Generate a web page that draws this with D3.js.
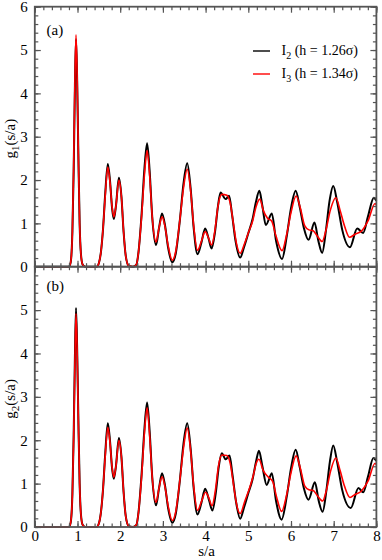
<!DOCTYPE html>
<html>
<head>
<meta charset="utf-8">
<script src="https://cdn.jsdelivr.net/npm/d3@7"></script>
<style>
  html, body { margin: 0; padding: 0; background: #fff; }
  svg { display: block; }
  svg text { font-family: "Liberation Serif", "Times New Roman", "DejaVu Serif", serif !important; fill: #000; }
</style>
</head>
<body>
<svg id="chart" width="382" height="560"></svg>
<script>
// ---------------- data ----------------
const xTickValues = [0, 1, 2, 3, 4, 5, 6, 7, 8];
const yTickValuesTop = [0, 1, 2, 3, 4, 5, 6];
const yTickValuesBottom = [0, 1, 2, 3, 4, 5];
const seriesNames = ["I", "I"];
const seriesSubs = ["2", "3"];
const seriesRest = [" (h = 1.26\u03c3)", " (h = 1.34\u03c3)"];
const panelLabels = ["(a)", "(b)"];
const yTitleSubs = ["1", "2"];

// panel (a): g1(s/a)
const sA_I2 = [0, 0.8, 0.84, 0.88, 0.91, 0.94, 0.965, 0.99, 1.02, 1.05, 1.08, 1.12, 1.18, 1.45, 1.5, 1.55, 1.6, 1.65, 1.71, 1.76, 1.81, 1.85, 1.9, 1.97, 2.03, 2.08, 2.13, 2.2, 2.3, 2.38, 2.43, 2.5, 2.57, 2.63, 2.69, 2.75, 2.84, 2.91, 2.98, 3.05, 3.12, 3.22, 3.3, 3.4, 3.48, 3.57, 3.65, 3.72, 3.81, 3.9, 3.99, 4.07, 4.14, 4.22, 4.29, 4.35, 4.47, 4.55, 4.62, 4.7, 4.81, 4.9, 5.0, 5.1, 5.18, 5.26, 5.33, 5.41, 5.55, 5.65, 5.79, 5.9, 6.0, 6.11, 6.2, 6.3, 6.41, 6.55, 6.64, 6.73, 6.82, 6.9, 6.99, 7.08, 7.2, 7.38, 7.55, 7.69, 7.8, 7.94, 8.0];
const gA_I2 = [0, 0, 0.1, 0.8, 2.2, 4.2, 5.25, 4.4, 2.6, 1.0, 0.3, 0.05, 0, 0, 0.08, 0.35, 0.9, 1.7, 2.37, 2.0, 1.35, 1.1, 1.4, 2.05, 1.6, 0.8, 0.25, 0.02, 0, 0.05, 0.35, 1.2, 2.3, 2.85, 2.2, 1.15, 0.5, 0.9, 1.23, 0.95, 0.45, 0.1, 0.3, 1.1, 1.9, 2.39, 1.8, 0.9, 0.29, 0.55, 0.88, 0.65, 0.42, 0.8, 1.4, 1.71, 1.56, 1.64, 1.2, 0.6, 0.21, 0.45, 0.77, 1.1, 1.5, 1.75, 1.4, 0.96, 1.23, 0.6, 0.18, 0.7, 1.35, 1.75, 1.4, 0.9, 0.62, 1.02, 0.6, 0.32, 0.85, 1.5, 1.86, 1.5, 0.85, 0.45, 0.88, 0.78, 1.15, 1.59, 1.52];

const sA_I3 = [0, 0.8, 0.84, 0.88, 0.91, 0.94, 0.965, 0.99, 1.02, 1.05, 1.08, 1.12, 1.18, 1.45, 1.5, 1.55, 1.6, 1.65, 1.71, 1.76, 1.81, 1.85, 1.9, 1.97, 2.03, 2.08, 2.13, 2.2, 2.3, 2.38, 2.43, 2.5, 2.57, 2.63, 2.69, 2.75, 2.84, 2.91, 2.98, 3.05, 3.12, 3.22, 3.3, 3.4, 3.48, 3.57, 3.65, 3.72, 3.81, 3.9, 3.99, 4.07, 4.14, 4.22, 4.29, 4.38, 4.5, 4.58, 4.65, 4.72, 4.81, 4.9, 5.0, 5.1, 5.18, 5.27, 5.35, 5.45, 5.55, 5.65, 5.79, 5.9, 6.0, 6.12, 6.22, 6.32, 6.42, 6.52, 6.62, 6.73, 6.82, 6.92, 7.05, 7.15, 7.25, 7.37, 7.5, 7.65, 7.8, 7.97, 8.0];
const gA_I3 = [0, 0, 0.1, 0.8, 2.3, 4.3, 5.35, 4.5, 2.6, 1.0, 0.3, 0.05, 0, 0, 0.08, 0.35, 0.9, 1.65, 2.3, 1.95, 1.38, 1.15, 1.4, 2.0, 1.6, 0.8, 0.25, 0.02, 0, 0.05, 0.35, 1.15, 2.15, 2.68, 2.1, 1.15, 0.57, 0.9, 1.15, 0.92, 0.5, 0.15, 0.35, 1.1, 1.8, 2.25, 1.75, 0.95, 0.38, 0.58, 0.81, 0.66, 0.5, 0.85, 1.4, 1.67, 1.65, 1.45, 1.0, 0.55, 0.31, 0.5, 0.78, 1.05, 1.38, 1.56, 1.3, 1.12, 1.05, 0.7, 0.37, 0.75, 1.25, 1.63, 1.35, 0.95, 0.85, 0.83, 0.7, 0.58, 0.85, 1.3, 1.59, 1.3, 0.95, 0.68, 0.75, 0.82, 1.05, 1.46, 1.42];

// panel (b): g2(s/a)
const sB_I2 = [0, 0.8, 0.84, 0.88, 0.91, 0.94, 0.965, 0.99, 1.02, 1.05, 1.08, 1.12, 1.18, 1.45, 1.5, 1.55, 1.6, 1.65, 1.71, 1.76, 1.81, 1.85, 1.9, 1.97, 2.03, 2.08, 2.13, 2.2, 2.3, 2.38, 2.43, 2.5, 2.57, 2.63, 2.69, 2.75, 2.84, 2.91, 2.98, 3.05, 3.12, 3.22, 3.3, 3.4, 3.48, 3.57, 3.65, 3.72, 3.81, 3.9, 3.99, 4.08, 4.16, 4.24, 4.31, 4.38, 4.47, 4.56, 4.63, 4.71, 4.81, 4.9, 5.0, 5.1, 5.18, 5.25, 5.33, 5.43, 5.55, 5.65, 5.78, 5.9, 6.0, 6.11, 6.2, 6.3, 6.41, 6.56, 6.65, 6.74, 6.83, 6.91, 6.99, 7.08, 7.2, 7.4, 7.58, 7.69, 7.8, 7.93, 8.0];
const gB_I2 = [0, 0, 0.1, 0.75, 2.1, 3.95, 5.05, 4.2, 2.5, 1.0, 0.3, 0.05, 0, 0, 0.08, 0.35, 0.9, 1.7, 2.39, 2.0, 1.35, 1.11, 1.4, 2.05, 1.6, 0.8, 0.25, 0.02, 0, 0.05, 0.35, 1.2, 2.3, 2.87, 2.2, 1.15, 0.5, 0.9, 1.24, 0.95, 0.45, 0.1, 0.3, 1.1, 1.9, 2.39, 1.8, 0.9, 0.29, 0.55, 0.88, 0.62, 0.38, 0.8, 1.4, 1.7, 1.56, 1.65, 1.2, 0.6, 0.19, 0.45, 0.78, 1.1, 1.5, 1.76, 1.4, 0.97, 1.24, 0.6, 0.17, 0.7, 1.35, 1.78, 1.4, 0.9, 0.63, 1.03, 0.6, 0.35, 0.85, 1.5, 1.88, 1.5, 0.85, 0.44, 0.9, 0.8, 1.15, 1.59, 1.52];

const sB_I3 = [0, 0.8, 0.84, 0.88, 0.91, 0.94, 0.965, 0.99, 1.02, 1.05, 1.08, 1.12, 1.18, 1.45, 1.5, 1.55, 1.6, 1.65, 1.71, 1.76, 1.81, 1.85, 1.9, 1.97, 2.03, 2.08, 2.13, 2.2, 2.3, 2.38, 2.43, 2.5, 2.57, 2.63, 2.69, 2.75, 2.84, 2.91, 2.98, 3.05, 3.12, 3.22, 3.3, 3.4, 3.48, 3.57, 3.65, 3.72, 3.81, 3.9, 4.0, 4.08, 4.15, 4.23, 4.3, 4.38, 4.5, 4.58, 4.65, 4.72, 4.81, 4.92, 5.04, 5.12, 5.18, 5.25, 5.35, 5.47, 5.57, 5.66, 5.78, 5.9, 6.0, 6.12, 6.22, 6.32, 6.42, 6.52, 6.62, 6.74, 6.83, 6.93, 7.05, 7.15, 7.25, 7.38, 7.5, 7.65, 7.8, 7.97, 8.0];
const gB_I3 = [0, 0, 0.1, 0.75, 2.05, 3.85, 4.92, 4.15, 2.45, 1.0, 0.3, 0.05, 0, 0, 0.08, 0.35, 0.9, 1.65, 2.3, 1.95, 1.38, 1.15, 1.4, 2.0, 1.6, 0.8, 0.25, 0.02, 0, 0.05, 0.35, 1.15, 2.2, 2.75, 2.1, 1.15, 0.57, 0.9, 1.16, 0.92, 0.5, 0.15, 0.35, 1.1, 1.8, 2.28, 1.75, 0.95, 0.38, 0.58, 0.8, 0.66, 0.49, 0.85, 1.4, 1.66, 1.65, 1.45, 1.0, 0.55, 0.31, 0.6, 0.93, 1.2, 1.45, 1.56, 1.3, 1.15, 1.05, 0.7, 0.36, 0.75, 1.25, 1.64, 1.35, 0.95, 0.86, 0.84, 0.72, 0.6, 0.85, 1.3, 1.59, 1.3, 0.95, 0.68, 0.75, 0.83, 1.05, 1.47, 1.43];

// ---------------- drawing ----------------
const svg = d3.select("#chart");
const left = 34.8, right = 376.4;
const panels = [
  { top: 6.7, bottom: 266.7, s: [sA_I2, sA_I3], g: [gA_I2, gA_I3], yTicks: yTickValuesTop, label: panelLabels[0], labelY: 35, sub: yTitleSubs[0], xLabels: false },
  { top: 266.7, bottom: 527.0, s: [sB_I2, sB_I3], g: [gB_I2, gB_I3], yTicks: yTickValuesBottom, label: panelLabels[1], labelY: 291, sub: yTitleSubs[1], xLabels: true }
];
const colors = ["#000000", "#ff0000"];
const widths = [2.0, 1.6];
const frameColor = "#555";
const majorLen = 6, minorLen = 3.5;
const minorX = d3.range(0, 8.0001, 0.2);
const minorY = d3.range(0, 6.0001, 0.2);
const fontFam = '"Liberation Serif", "Times New Roman", serif';

const x = d3.scaleLinear().domain([0, 8]).range([left, right]);

panels.forEach((p, pi) => {
  const y = d3.scaleLinear().domain([0, 6]).range([p.bottom, p.top]);
  const h = p.bottom - p.top;
  const w = right - left;

  // curves
  const line = d3.line().x(d => x(d[0])).y(d => y(d[1])).curve(d3.curveMonotoneX);
  [0, 1].forEach(k => {
    const pts = p.s[k].map((sv, i) => [sv, p.g[k][i]]);
    svg.append("path").datum(pts)
      .attr("d", line)
      .attr("fill", "none")
      .attr("stroke", colors[k])
      .attr("stroke-width", widths[k])
      .attr("stroke-linejoin", "round");
  });

  function styleAxis(g) {
    g.attr("font-family", fontFam).attr("font-size", 15);
    g.select(".domain").remove();
    g.selectAll(".tick line").attr("stroke", frameColor).attr("stroke-width", 1.2);
    g.selectAll(".tick text").attr("fill", "#000");
  }

  // left axis (major with labels)
  const gl = svg.append("g").attr("transform", `translate(${left},0)`)
    .call(d3.axisLeft(y).tickValues(p.yTicks).tickSize(-majorLen).tickPadding(7).tickFormat(d3.format("d")));
  styleAxis(gl);
  // left minor
  styleAxis(svg.append("g").attr("transform", `translate(${left},0)`)
    .call(d3.axisLeft(y).tickValues(minorY).tickSize(-minorLen).tickFormat("")));
  // right axis
  styleAxis(svg.append("g").attr("transform", `translate(${right},0)`)
    .call(d3.axisRight(y).tickValues(yTickValuesTop).tickSize(-majorLen).tickFormat("")));
  styleAxis(svg.append("g").attr("transform", `translate(${right},0)`)
    .call(d3.axisRight(y).tickValues(minorY).tickSize(-minorLen).tickFormat("")));
  // top axis
  styleAxis(svg.append("g").attr("transform", `translate(0,${p.top})`)
    .call(d3.axisTop(x).tickValues(xTickValues).tickSize(-majorLen).tickFormat("")));
  styleAxis(svg.append("g").attr("transform", `translate(0,${p.top})`)
    .call(d3.axisTop(x).tickValues(minorX).tickSize(-minorLen).tickFormat("")));
  // bottom axis
  const gb = svg.append("g").attr("transform", `translate(0,${p.bottom})`)
    .call(d3.axisBottom(x).tickValues(xTickValues).tickSize(-majorLen).tickPadding(3)
      .tickFormat(p.xLabels ? d3.format("d") : ""));
  styleAxis(gb);
  styleAxis(svg.append("g").attr("transform", `translate(0,${p.bottom})`)
    .call(d3.axisBottom(x).tickValues(minorX).tickSize(-minorLen).tickFormat("")));

  // frame
  svg.append("rect").attr("x", left).attr("y", p.top).attr("width", w).attr("height", h)
    .attr("fill", "none").attr("stroke", frameColor).attr("stroke-width", 1.8);

  // panel label
  svg.append("text").attr("x", 46.5).attr("y", p.labelY).attr("font-size", 15).text(p.label);

  // y title
  const yt = svg.append("text")
    .attr("transform", `translate(15,${(p.top + p.bottom) / 2 + 2}) rotate(-90)`)
    .attr("text-anchor", "middle").attr("font-size", 15);
  yt.append("tspan").text("g");
  yt.append("tspan").attr("font-size", 11).attr("dy", 4).text(p.sub);
  yt.append("tspan").attr("dy", -4).text("(s/a)");
});

// x title
svg.append("text").attr("x", (left + right) / 2 + 1).attr("y", 556)
  .attr("text-anchor", "middle").attr("font-size", 15).text("s/a");

// legend
const legY = [51, 74];
[0, 1].forEach(k => {
  svg.append("line").attr("x1", 253).attr("x2", 270).attr("y1", legY[k]).attr("y2", legY[k])
    .attr("stroke", colors[k]).attr("stroke-width", 1.4);
  const t = svg.append("text").attr("x", 281.5).attr("y", legY[k] + 4).attr("font-size", 14);
  t.append("tspan").text(seriesNames[k]);
  t.append("tspan").attr("font-size", 10).attr("dy", 4).text(seriesSubs[k]);
  t.append("tspan").attr("dy", -4).text(seriesRest[k]);
});
</script>
</body>
</html>
